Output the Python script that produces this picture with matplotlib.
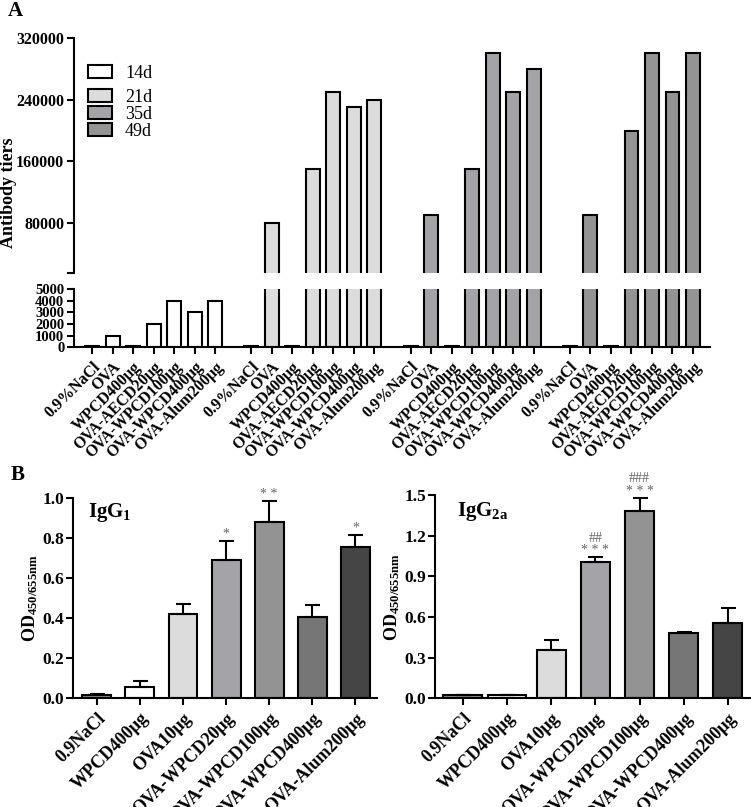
import numpy as np
import matplotlib
matplotlib.use('Agg')
import matplotlib.pyplot as plt
from matplotlib.patches import Patch

plt.rcParams['font.family'] = ['Liberation Serif', 'DejaVu Serif']
plt.rcParams['font.weight'] = 'bold'
plt.rcParams['mathtext.fontset'] = 'custom'
plt.rcParams['mathtext.rm'] = 'Liberation Serif:bold'
plt.rcParams['mathtext.bf'] = 'Liberation Serif:bold'
plt.rcParams['mathtext.it'] = 'Liberation Serif:bold'

# Panel A: antibody titers by day
groups = ['0.9%NaCl', 'OVA', 'WPCD400μg', 'OVA-AECD20μg', 'OVA-WPCD100μg', 'OVA-WPCD400μg', 'OVA-Alum200μg']
days = ['14d', '21d', '35d', '49d']
titer_14d = [100, 1000, 100, 2000, 4000, 3000, 4000]
titer_21d = [100, 80000, 100, 150000, 250000, 230000, 240000]
titer_35d = [100, 90000, 100, 150000, 300000, 250000, 280000]
titer_49d = [100, 90000, 100, 200000, 300000, 250000, 300000]
day_colors = ['white', '#dcdcdc', '#a3a3a8', '#949494']

# Panel B: IgG subclasses
b_groups = ['0.9NaCl', 'WPCD400μg', 'OVA10μg', 'OVA-WPCD20μg', 'OVA-WPCD100μg', 'OVA-WPCD400μg', 'OVA-Alum200μg']
igg1_mean = [0.017, 0.055, 0.423, 0.690, 0.883, 0.408, 0.755]
igg1_err = [0.003, 0.032, 0.047, 0.097, 0.104, 0.057, 0.062]
igg1_sig = ['', '', '', '*', '* *', '', '*']
igg2a_mean = [0.025, 0.025, 0.357, 1.006, 1.382, 0.482, 0.553]
igg2a_err = [0.003, 0.003, 0.070, 0.034, 0.098, 0.010, 0.116]
igg2a_sig = ['', '', '', '##\n* * *', '###\n* * *', '', '']
b_colors = ['#8f8f8f', 'white', '#dcdcdc', '#a3a3a8', '#939393', '#767676', '#454545']

W, H = 751, 807
fig = plt.figure(figsize=(W / 100, H / 100), dpi=100)


def box(l, t, r, b):
    return [l / W, 1 - b / H, (r - l) / W, (b - t) / H]


def style_axis(ax):
    for s in ['top', 'right']:
        ax.spines[s].set_visible(False)
    for s in ['left', 'bottom']:
        ax.spines[s].set_linewidth(1.5)
    ax.tick_params(width=1.5, length=5, direction='out')


# ---- Panel A ----
ax_top = fig.add_axes(box(74, 38, 710, 273.3))
ax_bot = fig.add_axes(box(74, 289, 710, 347.3))
gap = 7.77
pos = np.arange(len(groups))
all_x = []
for g, vals in enumerate([titer_14d, titer_21d, titer_35d, titer_49d]):
    x = pos + g * gap
    all_x.extend(x)
    for ax in (ax_top, ax_bot):
        ax.bar(x, vals, width=0.68, color=day_colors[g], edgecolor='black', linewidth=1.5)

for ax in (ax_top, ax_bot):
    style_axis(ax)
    ax.set_xlim(-0.88, all_x[-1] + 0.83)

ax_top.spines['bottom'].set_visible(False)
ax_top.set_xticks([])
ax_top.set_ylim(15000, 320000)
ax_top.set_yticks([15000, 80000, 160000, 240000, 320000], ['', '80000', '160000', '240000', '320000'])
ax_top.tick_params(axis='y', labelsize=11.5, pad=2)

ax_bot.set_ylim(0, 5000)
ax_bot.set_yticks([0, 1000, 2000, 3000, 4000, 5000])
ax_bot.tick_params(axis='y', labelsize=10.5, pad=2)
ax_bot.set_xticks(all_x)
ax_bot.set_xticklabels(groups * 4, rotation=45, ha='right', rotation_mode='anchor', fontsize=11.5)

handles = [Patch(facecolor=c, edgecolor='black', linewidth=1.5) for c in day_colors]
leg_kw = dict(frameon=False, handlelength=1.35, handleheight=0.7, handletextpad=0.7,
              borderpad=0, borderaxespad=0, labelspacing=0.0, bbox_transform=fig.transFigure,
              loc='upper left', prop={'weight': 'normal', 'size': 13})
leg1 = ax_top.legend(handles[:1], days[:1], bbox_to_anchor=(88 / W, 1 - 65 / H), **leg_kw)
ax_top.add_artist(leg1)
ax_top.legend(handles[1:], days[1:], bbox_to_anchor=(88 / W, 1 - 89 / H), **leg_kw)

fig.text(9 / W, 1 - 193 / H, 'Antibody tiers', rotation=90, fontsize=13, fontweight='bold',
         ha='center', va='center')
fig.text(8 / W, 1 - 11 / H, 'A', fontsize=15, fontweight='bold', ha='left', va='center')
fig.text(11 / W, 1 - 475 / H, 'B', fontsize=15, fontweight='bold', ha='left', va='center')

# ---- Panel B ----
ax1 = fig.add_axes(box(73, 498.3, 377, 698.3))
ax2 = fig.add_axes(box(435, 495, 750, 698.3))
xb = np.arange(len(b_groups))

specs = [
    (ax1, igg1_mean, igg1_err, igg1_sig, [0.67] * 7, (0, 1.0), np.arange(0, 1.01, 0.2), -0.55,
     r'$\mathbf{IgG_1}$', 0.05, 0.93, -0.11),
    (ax2, igg2a_mean, igg2a_err, igg2a_sig, [0.88, 0.88, 0.66, 0.66, 0.66, 0.66, 0.66], (0, 1.5),
     np.arange(0, 1.51, 0.3), -0.63, r'$\mathbf{IgG_{2a}}$', 0.07, 0.92, -0.105),
]
for ax, mean, err, sig, widths, ylim, yt, x0, title, tx, ty, lx in specs:
    style_axis(ax)
    ax.bar(xb, mean, width=widths, color=b_colors, edgecolor='black', linewidth=1.5, zorder=2)
    ax.errorbar(xb, mean, yerr=[np.zeros(len(err)), err], fmt='none', ecolor='black',
                elinewidth=1.5, capsize=5.4, capthick=1.5, zorder=3)
    for xi, m, e, s in zip(xb, mean, err, sig):
        if s:
            ax.text(xi, m + e, s, ha='center', va='bottom', color='#666666', fontsize=10,
                    fontweight='normal', linespacing=0.95)
    ax.set_ylim(*ylim)
    ax.set_yticks(yt, ['%.1f' % v for v in yt])
    ax.set_xlim(x0, 6.5)
    ax.set_xticks(xb)
    ax.set_xticklabels(b_groups, rotation=45, ha='right', rotation_mode='anchor', fontsize=13)
    ax.tick_params(axis='y', labelsize=12.5, pad=1.5)
    ax.set_ylabel(r'$\mathbf{OD_{450/655nm}}$', fontsize=13)
    ax.yaxis.set_label_coords(lx, 0.5)
    ax.text(tx, ty, title, transform=ax.transAxes, fontsize=15, ha='left', va='center')

fig.savefig('out.png', dpi=100)
